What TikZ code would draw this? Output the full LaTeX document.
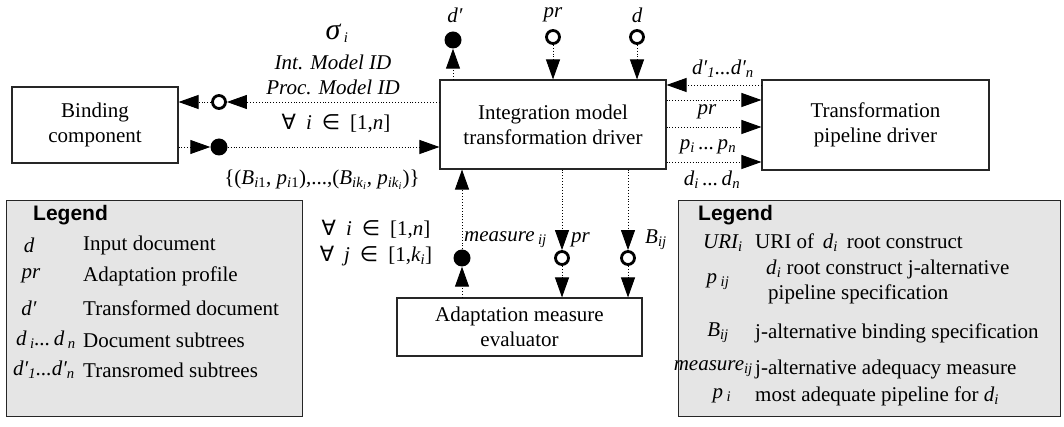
\documentclass[tikz,border=0pt]{standalone}
\usepackage{fontspec}
\setmainfont{Liberation Serif}
\newfontfamily\legf{Liberation Sans}
\newfontfamily\symf{DejaVu Sans}
\usetikzlibrary{arrows.meta}
\newcommand\fs{\fontsize{21}{25}\selectfont}
\newcommand\sbs[1]{\textsubscript{#1}}
\newcommand\itx[1]{\textit{#1}}
\begin{document}
\begin{tikzpicture}[x=1pt,y=-1pt,
  box/.style={draw=black!85, line width=1.1pt, fill=white, align=center, font=\fs, inner sep=0pt},
  lbl/.style={font=\fs\itshape, inner sep=0pt},
  txt/.style={font=\fs, inner sep=0pt},
  conn/.style={dotted, line width=0.9pt, -{Triangle[length=20pt,width=14pt]}},
  ocirc/.style={circle, draw, line width=2.8pt, fill=white, minimum size=13pt, inner sep=0pt},
  fcirc/.style={circle, fill, minimum size=17pt, inner sep=0pt},
  legbox/.style={draw=black!85, line width=1.1pt, fill=black!10, inner sep=0pt, anchor=north west},
  legtitle/.style={font=\fontsize{21}{25}\selectfont\legf\bfseries, inner sep=0pt, anchor=west},
  legdesc/.style={font=\fs, inner sep=0pt, anchor=west, align=left},
]
\useasboundingbox (0,0) rectangle (1064,427);

% main boxes
\node[box, minimum width=166pt, minimum height=76pt] (bind) at (95,125) {Binding\\component};
\node[box, minimum width=226pt, minimum height=89pt] (int) at (553,124.5) {Integration model\\transformation driver};
\node[box, minimum width=227pt, minimum height=90pt] (tpd) at (875.5,125) {Transformation\\pipeline driver};
\node[box, minimum width=245pt, minimum height=58pt] (eval) at (519.5,327) {Adaptation measure\\evaluator};

% left connections
\node[ocirc] (c1) at (219,102) {};
\node[fcirc] (c2) at (219,147) {};
\draw[conn] (int.west |- c1) -- (c1);
\draw[conn] (c1) -- (bind.east |- c1);
\draw[conn] (bind.east |- c2) -- (c2);
\draw[conn] (c2) -- (int.west |- c2);

\node[lbl] (sig) at (337,33) {{\fontsize{30}{30}\selectfont σ}\,\sbs{i}};
\node[lbl] (imid) at (333,62) {Int. Model ID};
\node[lbl] (pmid) at (333,87) {Proc. Model ID};
\node[txt] (fa1) at (336,123) {{\symf ∀}\hspace{10pt}\itx{i}\hspace{10pt}{\symf ∈}\hspace{10pt}[1,\itx{n}]};
\node[txt] (set) at (322,180) {\{(\itx{B}\sbs{\itx{i}1}, \itx{p}\sbs{\itx{i}1}),...,(\itx{B}\sbs{\itx{ik}\sbs{\itx{i}}}, \itx{p}\sbs{\itx{ik}\sbs{\itx{i}}})\}};

% top connections
\node[fcirc] (c3) at (453,40) {};
\node[ocirc] (c4) at (553,37) {};
\node[ocirc] (c5) at (637,37) {};
\draw[conn] (int.north -| c3) -- (c3);
\draw[conn] (c4) -- (int.north -| c4);
\draw[conn] (c5) -- (int.north -| c5);
\node[lbl] (ldp) at (455,15) {d′};
\node[lbl] (lpr) at (553,15) {pr};
\node[lbl] (ld) at (637,15) {d};

% right connections
\draw[conn] (tpd.west |- 0,85) -- (int.east |- 0,85);
\draw[conn] (int.east |- 0,100) -- (tpd.west |- 0,100);
\draw[conn] (int.east |- 0,127) -- (tpd.west |- 0,127);
\draw[conn] (int.east |- 0,162) -- (tpd.west |- 0,162);
\node[lbl] (r1) at (723,69) {d′\sbs{1}...d′\sbs{n}};
\node[lbl] (r2) at (707,112) {pr};
\node[lbl] (r3) at (708,147) {p\sbs{i}\,...\,p\sbs{n}};
\node[lbl] (r4) at (712,180) {d\sbs{i}\,...\,d\sbs{n}};

% bottom connections
\node[fcirc] (c6) at (462,258) {};
\node[ocirc] (c7) at (562,258) {};
\node[ocirc] (c8) at (628,258) {};
\draw[conn] (eval.north -| c6) -- (c6);
\draw[conn] (c6) -- (int.south -| c6);
\draw[conn] (int.south -| c7) -- (c7);
\draw[conn] (c7) -- (eval.north -| c7);
\draw[conn] (int.south -| c8) -- (c8);
\draw[conn] (c8) -- (eval.north -| c8);
\node[lbl, anchor=west] (lmeas) at (464,240) {measure\,\sbs{ij}};
\node[lbl, anchor=west] (lpr2) at (571,240) {pr};
\node[lbl, anchor=west] (lb) at (645,240) {B\sbs{ij}};
\node[txt] (fa2) at (376,229) {{\symf ∀}\hspace{10pt}\itx{i}\hspace{10pt}{\symf ∈}\hspace{10pt}[1,\itx{n}]};
\node[txt] (fa3) at (376,256) {{\symf ∀}\hspace{10pt}\itx{j}\hspace{10pt}{\symf ∈}\hspace{10pt}[1,\itx{k}\sbs{\itx{i}}]};

% left legend
\node[legbox, minimum width=296pt, minimum height=216pt] (leg1) at (6,200) {};
\node[legtitle] (lt1) at (33,215) {Legend};
\node[lbl] (s1) at (29,245) {d};
\node[lbl] (s2) at (31,276) {pr};
\node[lbl] (s3) at (29,308) {d′};
\node[lbl] (s4) at (46,340) {d\,\sbs{i}...\,d\,\sbs{n}};
\node[lbl] (s5) at (44,370) {d′\sbs{1}...d′\sbs{n}};
\node[legdesc] (t1) at (83,245) {Input document};
\node[legdesc] (t2) at (83,276) {Adaptation profile};
\node[legdesc] (t3) at (83,308) {Transformed document};
\node[legdesc] (t4) at (83,340) {Document subtrees};
\node[legdesc] (t5) at (83,370) {Transromed subtrees};

% right legend
\node[legbox, minimum width=382pt, minimum height=216pt] (leg2) at (678,200) {};
\node[legtitle] (lt2) at (698,215) {Legend};
\node[lbl] (u1) at (723,243) {URI\sbs{i}};
\node[lbl] (u2) at (718,282) {p\,\sbs{ij}};
\node[lbl] (u3) at (718,333) {B\sbs{ij}};
\node[lbl, anchor=east] (u4) at (753,369) {measure\sbs{ij}};
\node[lbl] (u5) at (722,396) {p\,\sbs{i}};
\node[legdesc] (v1) at (755,243) {URI of \,\itx{d}\sbs{\itx{i}}\, root construct};
\node[legdesc] (v2) at (766,282) {\itx{d}\sbs{\itx{i}} root construct j-alternative\\\hspace{2pt}pipeline specification};
\node[legdesc] (v3) at (755,333) {j-alternative binding specification};
\node[legdesc] (v4) at (755,369) {j-alternative adequacy measure};
\node[legdesc] (v5) at (755,396) {most adequate pipeline for \itx{d}\sbs{\itx{i}}};
\end{tikzpicture}
\end{document}
